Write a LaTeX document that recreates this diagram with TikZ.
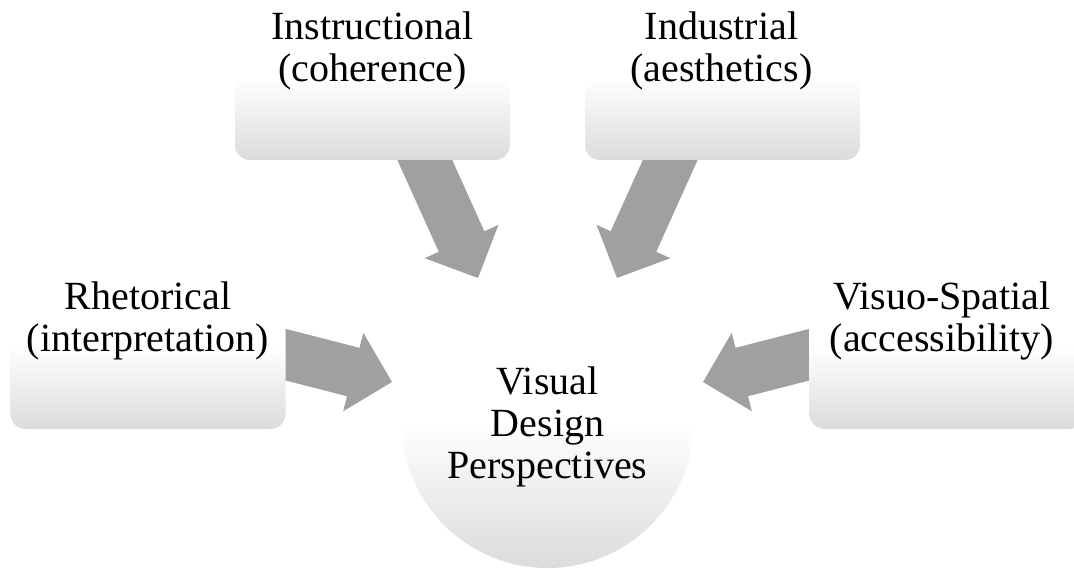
\documentclass[tikz,border=0pt]{standalone}
\usepackage{fontspec}
\setmainfont{Liberation Serif}
\usepackage{xcolor}
\usetikzlibrary{positioning,calc,backgrounds}
\definecolor{flowgray}{RGB}{160,160,160}
\tikzset{
panel/.style={rectangle, rounded corners=15pt, minimum width=275pt, minimum height=165pt, inner sep=0pt, top color=white, bottom color=black!14, middle color=white},
hub/.style={circle, minimum size=292pt, inner sep=0pt, top color=white, bottom color=black!14, middle color=white},
caption/.style={align=center, inner sep=0pt, font=\fontsize{40}{42}\selectfont},
flowarrow/.style={fill=flowgray}
}
% fat arrow from #1 (tail) to #2 (tip)
\newcommand{\blockflow}[2]{%
  \coordinate (hb) at ($(#2)!40pt!(#1)$);
  \fill[flowarrow] ($(#1)!25pt!90:(#2)$) -- ($(hb)!25pt!90:(#2)$)
    -- ($(hb)!40.5pt!90:(#2)$) -- (#2) -- ($(hb)!40.5pt!-90:(#2)$)
    -- ($(hb)!25pt!-90:(#2)$) -- ($(#1)!25pt!-90:(#2)$) -- cycle;}

\begin{document}
\begin{tikzpicture}[x=1pt,y=-1pt]
\useasboundingbox (0,0) rectangle (1074,569);

\node[panel] (instr) at (372.5,77.5) {};
\node[panel] (indus) at (722.5,77.5) {};
\node[panel] (rhet) at (148,346.5) {};
\node[panel] (visuo) at (947,346.5) {};
\node[hub] (hub) at (547.5,422) {};

\node[caption, below=17pt of instr.north] (instrtxt) {Instructional\\(coherence)};
\node[caption, below=17pt of indus.north, xshift=-1pt] (industxt) {Industrial\\(aesthetics)};
\node[caption, below=18pt of rhet.north] (rhettxt) {Rhetorical\\(interpretation)};
\node[caption, below=18pt of visuo.north, xshift=-5pt] (visuotxt) {Visuo-Spatial\\(accessibility)};
\node[caption, below=91pt of hub.north] (hubtxt) {Visual\\Design\\Perspectives};

% arrows sit behind the boxes
\coordinate (instrtail) at (409,125);
\coordinate (instrtip) at (478,278);
\coordinate (industail) at (686,125);
\coordinate (industip) at (617,278);
\coordinate (rhettail) at (250,345.5);
\coordinate (rhettip) at (392,382);
\coordinate (visuotail) at (845,345.5);
\coordinate (visuotip) at (703,382);
\begin{pgfonlayer}{background}
\foreach \a in {instr,indus,rhet,visuo}{
  \blockflow{\a tail}{\a tip}
}
\end{pgfonlayer}
\end{tikzpicture}
\end{document}
